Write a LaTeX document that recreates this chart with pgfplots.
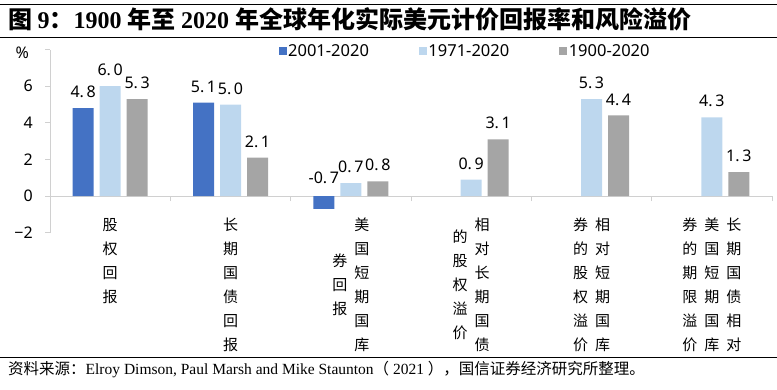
\documentclass[border=0pt]{standalone}
\usepackage{pgfplots}
\pgfplotsset{compat=1.18}
\usepackage{fontspec}
\setmainfont{Liberation Serif}
\newfontfamily\cjk{Noto Sans CJK SC}
\newfontfamily\ns{Noto Sans}
\definecolor{c1}{HTML}{4472C4}
\definecolor{c2}{HTML}{BDD7EE}
\definecolor{c3}{HTML}{A5A5A5}
\definecolor{axg}{HTML}{D0D0D0}
\newcommand\vcol[1]{\begin{tabular}[c]{@{}c@{}}#1\end{tabular}}
\newcommand\gap{\hspace{7pt}}
\begin{document}
\begin{tikzpicture}
\useasboundingbox (0pt,0pt) rectangle (777pt,-389pt);
\draw[line width=1pt] (0pt,-4pt) -- (777pt,-4pt);
\draw[line width=1pt] (0pt,-37pt) -- (777pt,-37pt);
\draw[line width=1pt] (0pt,-357pt) -- (777pt,-357pt);
\node[anchor=base west, inner sep=0] at (8pt,-28pt) {\fontsize{24}{28}\selectfont\bfseries{\cjk\bfseries 图 }9{\cjk\bfseries ：}1900 {\cjk\bfseries 年至 }2020 {\cjk\bfseries 年全球年化实际美元计价回报率和风险溢价}};
\node[anchor=base west, inner sep=0] at (8pt,-374pt) {\fontsize{15.5}{18}\selectfont{\cjk 资料来源：}Elroy Dimson, Paul Marsh and Mike Staunton{\cjk （} 2021 {\cjk ），国信证券经济研究所整理。}};
\node[anchor=east, inner sep=0pt, font=\ns\fontsize{16}{18}\selectfont] at (29pt,-53pt) {\%};
\begin{axis}[
  at={(110.17pt,-196pt)}, anchor=origin,
  scale only axis, width=722pt, height=183pt,
  xmin=-0.5, xmax=5.5, ymin=-2, ymax=8,
  axis y line=left, axis x line=middle,
  axis line style={-, draw=axg, line width=0.8pt},
  hide obscured x ticks=false, hide obscured y ticks=false,
  ybar=6pt, bar width=21pt,
  ytick={-2,0,2,4,6,8},
  yticklabels={−2,0,2,4,6,},
  yticklabel style={font=\ns\fontsize{16}{18}\selectfont, inner sep=0pt, xshift=-12pt},
  tick align=outside, major tick length=5pt,
  tick style={draw=axg, line width=0.8pt},
  x tick label as interval,
  xtick={-0.5,0.5,1.5,2.5,3.5,4.5,5.5},
  xticklabels={
   {\vcol{股\\权\\回\\报}},
   {\vcol{长\\期\\国\\债\\回\\报}},
   {\vcol{券\\回\\报}\gap\vcol{美\\国\\短\\期\\国\\库}},
   {\vcol{的\\股\\权\\溢\\价}\gap\vcol{相\\对\\长\\期\\国\\债}},
   {\vcol{券\\的\\股\\权\\溢\\价}\gap\vcol{相\\对\\短\\期\\国\\库}},
   {\vcol{券\\的\\期\\限\\溢\\价}\gap\vcol{美\\国\\短\\期\\国\\库}\gap\vcol{长\\期\\国\\债\\相\\对}}
  },
  xticklabel style={font=\cjk\fontsize{15}{24}\selectfont, anchor=north, inner sep=0pt, yshift=-12pt},
  /pgf/number format/.cd, fixed, fixed zerofill, precision=1, dec sep={.\,}, assume math mode=true,
  /pgfplots/.cd,
  nodes near coords,
  visualization depends on={y \as \rawy},
  nodes near coords align={anchor=south},
  nodes near coords style={font=\ns\fontsize{16}{18}\selectfont, anchor=south, inner sep=0pt, yshift={ifthenelse(\rawy<0,25,10)}},
  legend columns=3,
  legend style={at={(0.3164,0.99)}, anchor=west, draw=none, fill=none, inner sep=0pt,
    font=\ns\fontsize{16.5}{18}\selectfont, nodes={inner sep=1.5pt},
    /tikz/every even column/.append style={column sep=48.5pt}},
  legend image code/.code={\draw[#1,/tikz/.cd,draw=none] (0pt,-4pt) rectangle (8pt,4pt);},
]
\addplot[fill=c1, draw=none] coordinates {(0,4.8) (1,5.1) (2,-0.7)};
\addplot[fill=c2, draw=none] coordinates {(0,6.0) (1,5.0) (2,0.7) (3,0.9) (4,5.3) (5,4.3)};
\addplot[fill=c3, draw=none] coordinates {(0,5.3) (1,2.1) (2,0.8) (3,3.1) (4,4.4) (5,1.3)};
\legend{2001-2020,1971-2020,1900-2020}
\end{axis}
\end{tikzpicture}
\end{document}
